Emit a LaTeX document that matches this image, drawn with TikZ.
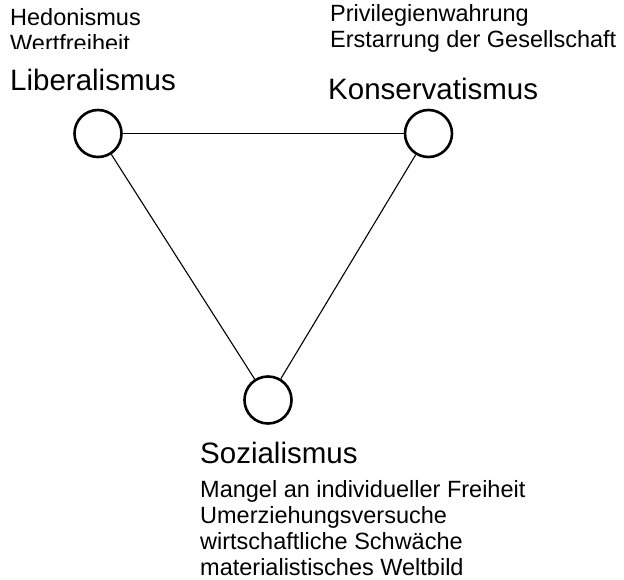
\documentclass[tikz,border=0pt]{standalone}
\usepackage{fontspec}
\setmainfont{Liberation Sans}
\usetikzlibrary{positioning}

\tikzset{
    pole/.style={circle, draw, line width=2.6pt, minimum size=47pt, inner sep=0pt},
    link/.style={line width=1.1pt},
    ideo/.style={anchor=base west, inner sep=0pt, font=\fontsize{29.5}{34}\selectfont},
    crit/.style={anchor=base west, inner sep=0pt, align=left, font=\fontsize{23.5}{26}\selectfont}
}

\begin{document}
\begin{tikzpicture}[x=1pt, y=-1pt]
    \useasboundingbox (0,0) rectangle (624,580);

    % the three poles
    \node[pole] (lib) at (98,133.5) {};
    \node[pole] (kon) at (428.5,133.5) {};
    \node[pole] (soz) at (268,400) {};

    \draw[link] (lib) -- (kon);
    \draw[link] (lib) -- (soz);
    \draw[link] (kon) -- (soz);

    % names
    \node[ideo] (libname) at (10,90.5) {Liberalismus};
    \node[ideo] (konname) at (328,100) {Konservatismus};
    \node[ideo] (sozname) at (200,463) {Sozialismus};

    % critique (base anchor = last line)
    \begin{scope}
        \clip (0,0) rectangle (250,48.5);
        \node[crit] (libcrit) at (10,52) {Hedonismus\\Wertfreiheit};
    \end{scope}
    \node[crit] (koncrit) at (330,48) {Privilegienwahrung\\Erstarrung der Gesellschaft};
    \node[crit] (sozcrit) at (200,575) {Mangel an individueller Freiheit\\Umerziehungsversuche\\wirtschaftliche Schwäche\\materialistisches Weltbild};
\end{tikzpicture}
\end{document}
